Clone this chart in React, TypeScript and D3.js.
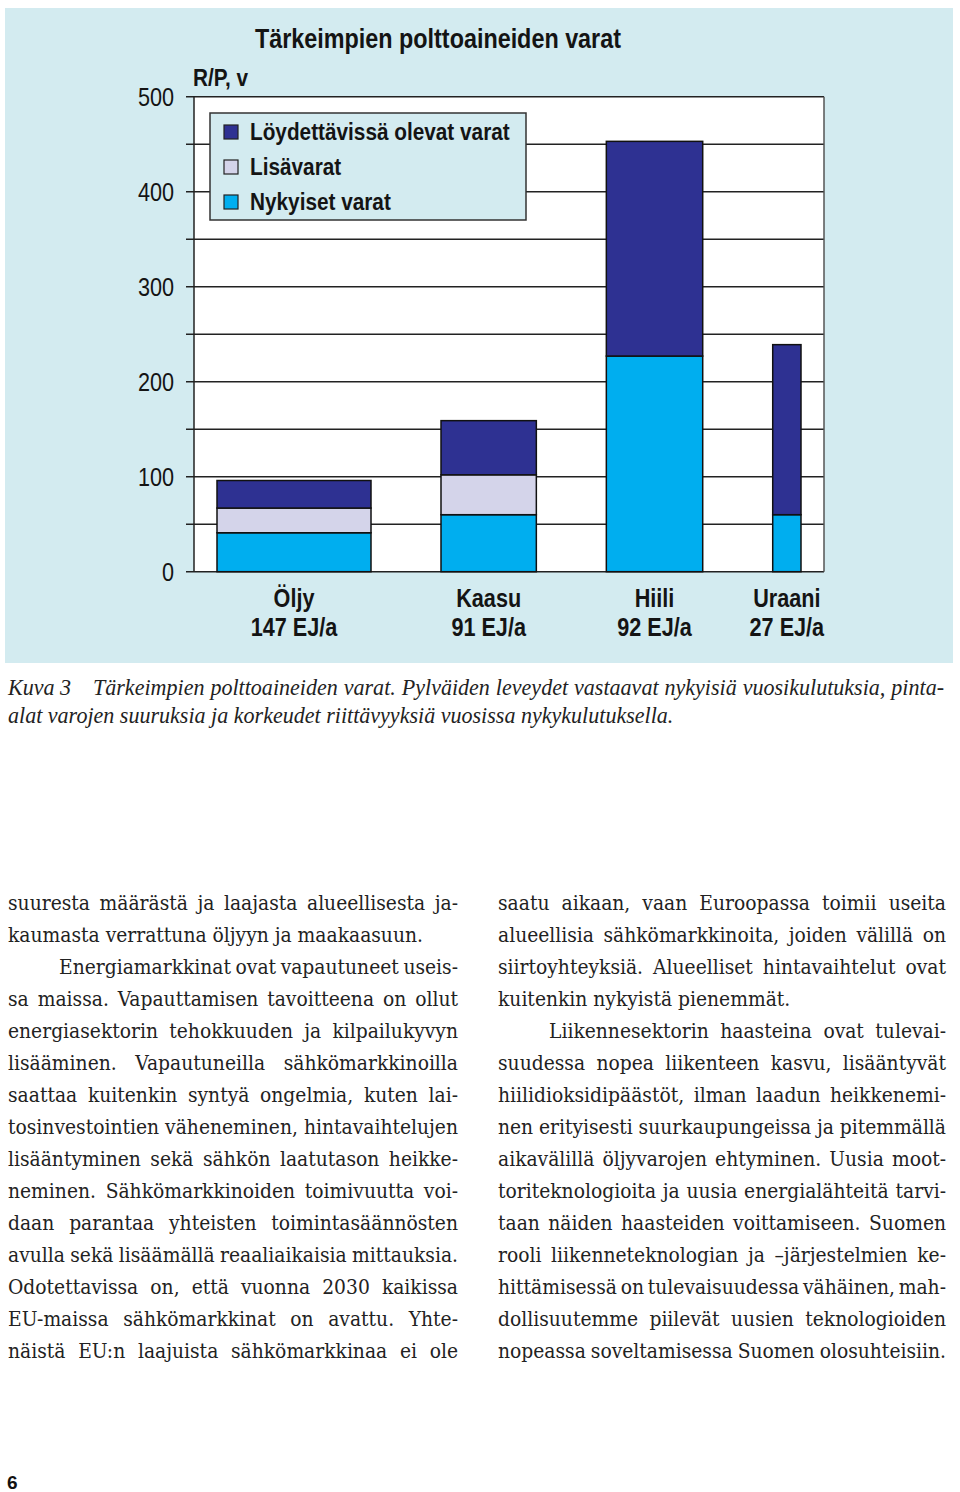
import React, { useEffect, useRef } from 'react';
import * as d3 from 'd3';

// chart data
const fuels = ['Öljy', 'Kaasu', 'Hiili', 'Uraani'];
const consumption = [147, 91, 92, 27]; // EJ/a, also drives bar widths
const currentReserves = [41, 60, 227, 60];
const additionalReserves = [26, 42, 0, 0];
const discoverableReserves = [29, 57, 226, 179];
const yTicks = [0, 100, 200, 300, 400, 500];
const gridValues = [50, 100, 150, 200, 250, 300, 350, 400, 450, 500];

const seriesKeys = ['current', 'additional', 'discoverable'];
const legendLabels = ['Löydettävissä olevat varat', 'Lisävarat', 'Nykyiset varat'];
const legendKeys = ['discoverable', 'additional', 'current'];
const colors = { current: '#00aeef', additional: '#d4d4ea', discoverable: '#2e3192' };

const title = 'Tärkeimpien polttoaineiden varat';
const yTitle = 'R/P, v';

const captionLabel = 'Kuva 3';
const captionLines = [
  'Tärkeimpien polttoaineiden varat. Pylväiden leveydet vastaavat nykyisiä vuosikulutuksia, pinta-',
  'alat varojen suuruksia ja korkeudet riittävyyksiä vuosissa nykykulutuksella.',
];

// [text, justify, indent]
const leftColumn = [
  ['suuresta määrästä ja laajasta alueellisesta ja-', 1, 0],
  ['kaumasta verrattuna öljyyn ja maakaasuun.', 0, 0],
  ['Energiamarkkinat ovat vapautuneet useis-', 1, 1],
  ['sa maissa. Vapauttamisen tavoitteena on ollut', 1, 0],
  ['energiasektorin tehokkuuden ja kilpailukyvyn', 1, 0],
  ['lisääminen. Vapautuneilla sähkömarkkinoilla', 1, 0],
  ['saattaa kuitenkin syntyä ongelmia, kuten lai-', 1, 0],
  ['tosinvestointien väheneminen, hintavaihtelujen', 1, 0],
  ['lisääntyminen sekä sähkön laatutason heikke-', 1, 0],
  ['neminen. Sähkömarkkinoiden toimivuutta voi-', 1, 0],
  ['daan parantaa yhteisten toimintasäännösten', 1, 0],
  ['avulla sekä lisäämällä reaaliaikaisia mittauksia.', 1, 0],
  ['Odotettavissa on, että vuonna 2030 kaikissa', 1, 0],
  ['EU-maissa sähkömarkkinat on avattu. Yhte-', 1, 0],
  ['näistä EU:n laajuista sähkömarkkinaa ei ole', 1, 0],
];
const rightColumn = [
  ['saatu aikaan, vaan Euroopassa toimii useita', 1, 0],
  ['alueellisia sähkömarkkinoita, joiden välillä on', 1, 0],
  ['siirtoyhteyksiä. Alueelliset hintavaihtelut ovat', 1, 0],
  ['kuitenkin nykyistä pienemmät.', 0, 0],
  ['Liikennesektorin haasteina ovat tulevai-', 1, 1],
  ['suudessa nopea liikenteen kasvu, lisääntyvät', 1, 0],
  ['hiilidioksidipäästöt, ilman laadun heikkenemi-', 1, 0],
  ['nen erityisesti suurkaupungeissa ja pitemmällä', 1, 0],
  ['aikavälillä öljyvarojen ehtyminen. Uusia moot-', 1, 0],
  ['toriteknologioita ja uusia energialähteitä tarvi-', 1, 0],
  ['taan näiden haasteiden voittamiseen. Suomen', 1, 0],
  ['rooli liikenneteknologian ja –järjestelmien ke-', 1, 0],
  ['hittämisessä on tulevaisuudessa vähäinen, mah-', 1, 0],
  ['dollisuutemme piilevät uusien teknologioiden', 1, 0],
  ['nopeassa soveltamisessa Suomen olosuhteisiin.', 1, 0],
];

const W = 960, H = 1492;
const sans = '"Liberation Sans", Arial, sans-serif';
const bodyFont = '"DejaVu Serif Condensed", "DejaVu Serif", serif';
const captionFont = '"Liberation Serif", serif';

const plot = { left: 194, right: 824, top: 96.7, bottom: 571.7 };
const edgeGap = 23, innerGap = 70;
const titleWidth = 366; // used to derive the narrow squeeze

// text squeezed horizontally (stands in for Arial Narrow)
const Narrow = ({ x, y, anchor = 'start', size = 25, bold = true, id, children }: any) => (
  <g transform={`translate(${x},${y})`}>
    <text className="narrow" id={id} textAnchor={anchor} fontFamily={sans} fontSize={size}
      fontWeight={bold ? 'bold' : 'normal'} fill="#141414" transform="scale(0.8,1)">{children}</text>
  </g>
);

export default function App() {
  const svgRef = useRef<SVGSVGElement>(null);

  const y = d3.scaleLinear().domain([0, 500]).range([plot.bottom, plot.top]);
  const barSpace = plot.right - plot.left - 2 * edgeGap - innerGap * (fuels.length - 1);
  const w = d3.scaleLinear().domain([0, d3.sum(consumption)]).range([0, barSpace]);

  const rows = fuels.map((f, i) => ({
    fuel: f,
    current: currentReserves[i],
    additional: additionalReserves[i],
    discoverable: discoverableReserves[i],
  }));
  const stacked = d3.stack<any>().keys(seriesKeys)(rows);

  const barX: number[] = [];
  let cx = plot.left + edgeGap;
  consumption.forEach((c) => { barX.push(cx); cx += w(c) + innerGap; });

  useEffect(() => {
    const svg = d3.select(svgRef.current);
    // squeeze factor for the chart's narrow type
    const t = svg.select<SVGTextElement>('#chart-title').node();
    if (t) {
      const k = titleWidth / t.getComputedTextLength();
      svg.selectAll('.narrow').attr('transform', `scale(${k},1)`);
    }
    // body size: the largest that keeps every justified line from needing negative spacing
    let ratio = Infinity;
    svg.selectAll<SVGTextElement, unknown>('text.body[data-target]').each(function () {
      ratio = Math.min(ratio, +this.getAttribute('data-target')! / this.getComputedTextLength());
    });
    if (isFinite(ratio)) svg.selectAll('.body').attr('font-size', 20 * Math.min(ratio * 1.02, 1.1));
    const probe = svg.select<SVGTextElement>('#probe-caption').node();
    if (probe) svg.selectAll('.caption').attr('font-size', 20 * 666 / probe.getComputedTextLength());
    // justify lines by word spacing
    svg.selectAll<SVGTextElement, unknown>('text[data-target]').each(function () {
      const el = d3.select(this);
      const target = +el.attr('data-target');
      const natural = this.getComputedTextLength();
      const spaces = (this.textContent || '').split(' ').length - 1;
      if (spaces > 0) el.style('word-spacing', `${(target - natural) / spaces}px`);
    });
  }, []);

  const column = (lines: any[], x0: number, x1: number, key: string) =>
    lines.map(([t, j, ind], i) => {
      const xs = ind ? x0 + 51 : x0;
      return (
        <text key={key + i} className="body"
          x={xs} y={910 + 32 * i} data-target={j ? x1 - xs : undefined}
          fontFamily={bodyFont} fontStretch="condensed" fontSize={20} fill="#222">{t}</text>
      );
    });

  return (
    <svg ref={svgRef} width={W} height={H} style={{ position: 'absolute', left: 0, top: 0, background: '#fff' }}>
      <rect x={5} y={8} width={948} height={655} fill="#d3ebf0" />
      <rect x={plot.left} y={plot.top} width={plot.right - plot.left} height={plot.bottom - plot.top} fill="#fff" />

      {gridValues.map((v) => (
        <line key={v} x1={186} x2={plot.right} y1={y(v)} y2={y(v)} stroke="#222" strokeWidth={1.5} />
      ))}
      <line x1={186} x2={plot.right} y1={y(0)} y2={y(0)} stroke="#222" strokeWidth={1.5} />
      <line x1={plot.left} x2={plot.left} y1={plot.top} y2={plot.bottom} stroke="#222" strokeWidth={1.5} />
      <line x1={plot.right} x2={plot.right} y1={plot.top} y2={plot.bottom} stroke="#555" strokeWidth={1.5} />

      {yTicks.map((v) => (
        <Narrow key={v} x={174} y={y(v) + 9} anchor="end" bold={false}>{v}</Narrow>
      ))}

      {stacked.map((s) => s.map((d, i) => (
        d[1] - d[0] > 0 ? (
          <rect key={s.key + i} x={barX[i]} y={y(d[1])} width={w(consumption[i])} height={y(d[0]) - y(d[1])}
            fill={(colors as any)[s.key]} stroke="#111" strokeWidth={1.5} />
        ) : null
      )))}

      <rect x={210} y={113} width={316} height={107} fill="#d3ebf0" stroke="#333" strokeWidth={1.5} />
      {legendKeys.map((k, i) => (
        <g key={k}>
          <rect x={224} y={125 + 35 * i} width={14} height={14} fill={(colors as any)[k]} stroke="#222" strokeWidth={1.2} />
          <Narrow x={250} y={140 + 35 * i} size={24}>{legendLabels[i]}</Narrow>
        </g>
      ))}

      <Narrow x={255} y={48} size={27} id="chart-title">{title}</Narrow>
      <Narrow x={193} y={86} size={24}>{yTitle}</Narrow>

      {fuels.map((f, i) => {
        const mid = barX[i] + w(consumption[i]) / 2;
        return (
          <g key={f}>
            <Narrow x={mid} y={607} anchor="middle">{f}</Narrow>
            <Narrow x={mid} y={636} anchor="middle">{`${consumption[i]} EJ/a`}</Narrow>
          </g>
        );
      })}

      <text x={8} y={695} className="caption" fontFamily={captionFont} fontStyle="italic" fontSize={20} fill="#222">{captionLabel}</text>
      <text x={93} y={695} className="caption" data-target={944 - 93} fontFamily={captionFont} fontStyle="italic" fontSize={20} fill="#222">{captionLines[0]}</text>
      <text x={8} y={723} className="caption" id="probe-caption" fontFamily={captionFont} fontStyle="italic" fontSize={20} fill="#222">{captionLines[1]}</text>

      {column(leftColumn, 8, 458, 'l')}
      {column(rightColumn, 498, 946, 'r')}

      <text x={7} y={1489} fontFamily={sans} fontWeight="bold" fontSize={19} fill="#111">6</text>
    </svg>
  );
}
